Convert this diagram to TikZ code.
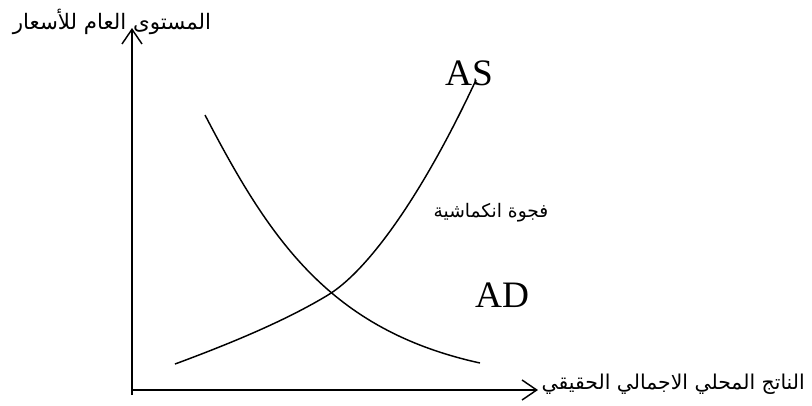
\documentclass[tikz,border=0pt]{standalone}
\usepackage{fontspec}
\setmainfont{Liberation Serif}
\newfontfamily\arabicfont[Script=Arabic]{DejaVu Sans}
\TeXXeTstate=1
\usetikzlibrary{arrows.meta}
\tikzset{
  axis/.style={line width=1.1pt,-{Straight Barb[length=11pt,width=15pt]}},
  curve/.style={line width=1.1pt},
  arlabel/.style={font=\arabicfont\fontsize{16}{19}\selectfont,inner sep=1pt},
  latlabel/.style={font=\fontsize{28}{32}\selectfont,inner sep=0pt}
}
\begin{document}
\begin{tikzpicture}[x=0.75pt,y=-0.75pt]
\useasboundingbox (0,0) rectangle (812,405);
\coordinate (ybot) at (132,395);
\coordinate (O) at (132,390);
\coordinate (ytop) at (132,28);
\coordinate (xend) at (538,390);
\coordinate (E) at (328,295);
\draw[axis] (ybot) -- (ytop);
\draw[axis] (O) -- (xend);
% AD
\draw[curve] (205,115) .. controls (270,240) and (330,330) .. (480,363);
% AS
\draw[curve] (175,364) .. controls (240,340) and (290,318) .. (E)
  .. controls (366,272) and (420,200) .. (476,80);
\node[latlabel] (AS) at (469,73) {AS};
\node[latlabel] (AD) at (502,295) {AD};
\node[arlabel] (price) at (112,22) {\beginR المستوى العام للأسعار\endR};
\node[arlabel,font=\arabicfont\fontsize{15.3}{18}\selectfont,anchor=west] (gdp) at (540,384) {\beginR الناتج المحلي الاجمالي الحقيقي\endR};
\node[arlabel,font=\arabicfont\fontsize{14}{17}\selectfont] (gap) at (491,213) {\beginR فجوة انكماشية\endR};
\end{tikzpicture}
\end{document}
